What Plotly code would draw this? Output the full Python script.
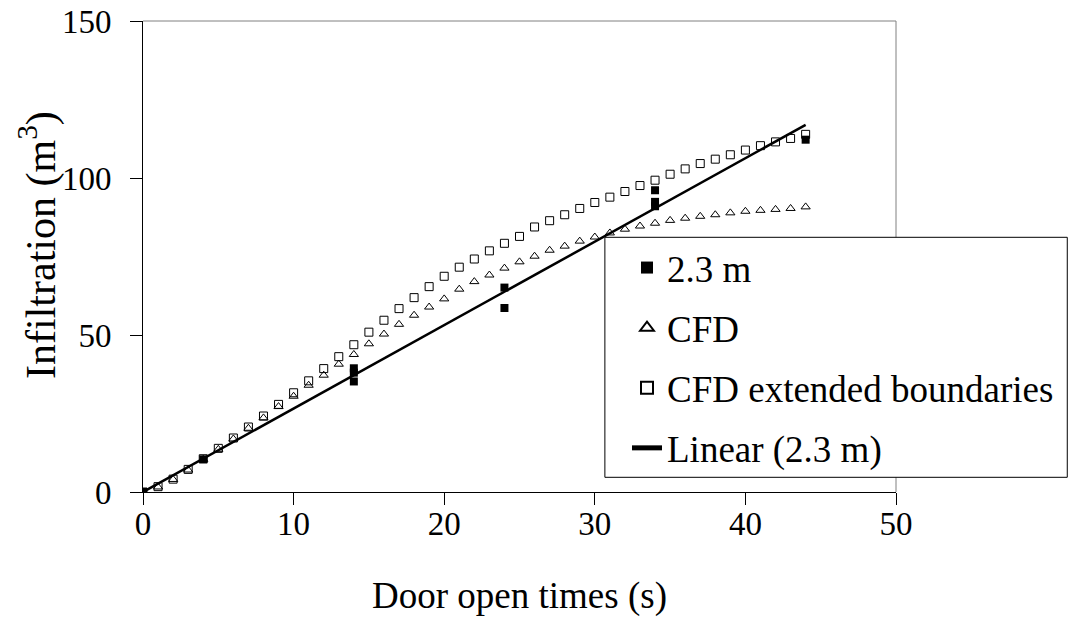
import numpy as np
import plotly.graph_objects as go

# ---- data ----
t_cfd = list(range(45))
cfd = [0, 1.6, 4.0, 7.0, 10.4, 13.6, 16.9, 20.3, 23.6, 27.2, 30.5, 34.0, 37.2, 40.7, 43.8,
       47.2, 50.3, 53.4, 56.3, 58.9, 61.5, 64.6, 67.0, 69.1, 71.3, 73.3, 75.1, 77.0, 78.3,
       79.9, 81.2, 82.5, 83.7, 84.7, 85.6, 86.5, 87.2, 87.8, 88.3, 88.9, 89.4, 89.7, 90.0,
       90.3, 90.8]
cfd_ext = [0, 1.7, 4.1, 7.2, 10.6, 13.9, 17.2, 20.7, 24.2, 27.9, 31.6, 35.4, 39.3, 43.1,
           46.9, 50.9, 54.7, 58.4, 61.9, 65.4, 68.7, 71.6, 74.2, 76.8, 79.2, 81.4, 84.4,
           86.4, 88.3, 90.3, 92.2, 93.9, 95.7, 97.6, 99.3, 101.2, 102.9, 104.6, 106.0,
           107.4, 108.9, 110.3, 111.5, 112.6, 113.9]
t_meas = [0, 4, 14, 14, 14, 24, 24, 34, 34, 34, 44]
meas = [0, 10.4, 39.4, 38.0, 35.2, 65.1, 58.6, 96.1, 92.4, 91.0, 112.2]
x_ticks = [0, 10, 20, 30, 40, 50]
y_ticks = [0, 50, 100, 150]

# linear trendline through origin fitted to the 2.3 m data
tm = np.array(t_meas, dtype=float)
ym = np.array(meas, dtype=float)
slope = float((tm * ym).sum() / (tm * tm).sum())
t_fit = [0, max(t_meas)]
y_fit = [slope * v for v in t_fit]

FONT = "Liberation Serif, Times New Roman, serif"

# layout geometry (figure pixels)
W, H = 1076, 626
ML, MT, PW, PH = 134.5, 12.7, 754.0, 471.0


def px_x(v):
    return (v - ML) / PW


def px_y(v):
    return 1 - (v - MT) / PH


fig = go.Figure()
fig.add_trace(go.Scatter(x=t_meas, y=meas, mode="markers", name="2.3 m",
                         legendgroup="a",
                         marker=dict(symbol="square", size=8, color="black")))
fig.add_trace(go.Scatter(x=t_cfd, y=cfd, mode="markers", name="CFD",
                         legendgroup="b",
                         marker=dict(symbol="triangle-up-open", size=8, color="black",
                                     line=dict(width=1, color="black"))))
fig.add_trace(go.Scatter(x=t_cfd, y=cfd_ext, mode="markers", name="CFD extended boundaries",
                         legendgroup="c",
                         marker=dict(symbol="square-open", size=8, color="black",
                                     line=dict(width=1, color="black"))))
fig.add_trace(go.Scatter(x=t_fit, y=y_fit, mode="lines", name="Linear (2.3 m)",
                         legendgroup="d",
                         line=dict(color="black", width=2.5)))

fig.update_layout(
    width=W, height=H,
    margin=dict(l=ML, r=W - ML - PW, t=MT, b=H - MT - PH, autoexpand=False),
    paper_bgcolor="white", plot_bgcolor="white",
    font=dict(family=FONT, color="black", size=33),
    showlegend=True,
    legend=dict(x=619 / W, y=1 - 229 / H, xref="container", yref="container",
                xanchor="left", yanchor="top",
                bgcolor="rgba(0,0,0,0)", borderwidth=0,
                font=dict(family=FONT, size=37, color="black"),
                traceorder="grouped", tracegroupgap=9,
                itemsizing="constant"),
    shapes=[
        dict(type="line", xref="paper", yref="paper", x0=0, x1=1, y0=1, y1=1,
             line=dict(color="#808080", width=1), layer="below"),
        dict(type="line", xref="paper", yref="paper", x0=1, x1=1, y0=0, y1=1,
             line=dict(color="#808080", width=1), layer="below"),
        dict(type="rect", xref="paper", yref="paper",
             x0=px_x(597), x1=px_x(1060), y0=px_y(469), y1=px_y(229),
             fillcolor="white", line=dict(color="black", width=1), layer="above"),
    ],
    annotations=[
        dict(text="Infiltration (m<sup>3</sup>)", xref="paper", yref="paper",
             x=px_x(30), y=px_y(237), xanchor="center", yanchor="middle",
             textangle=-90, showarrow=False,
             font=dict(family=FONT, size=42, color="black")),
    ],
)
fig.update_xaxes(range=[0, 50], tickvals=x_ticks,
                 showgrid=False, zeroline=False,
                 showline=True, linecolor="black", linewidth=1,
                 ticks="outside", ticklen=12, tickcolor="black",
                 ticklabelstandoff=-10, ticklabeloverflow="allow",
                 tickfont=dict(family=FONT, size=33),
                 title=dict(text="Door open times (s)", font=dict(family=FONT, size=37),
                            standoff=41))
fig.update_yaxes(range=[0, 150], tickvals=y_ticks,
                 showgrid=False, zeroline=False,
                 showline=True, linecolor="black", linewidth=1,
                 ticks="outside", ticklen=12, tickcolor="black",
                 ticklabelstandoff=12, ticklabeloverflow="allow",
                 tickfont=dict(family=FONT, size=33))

fig.write_html("out.html")
